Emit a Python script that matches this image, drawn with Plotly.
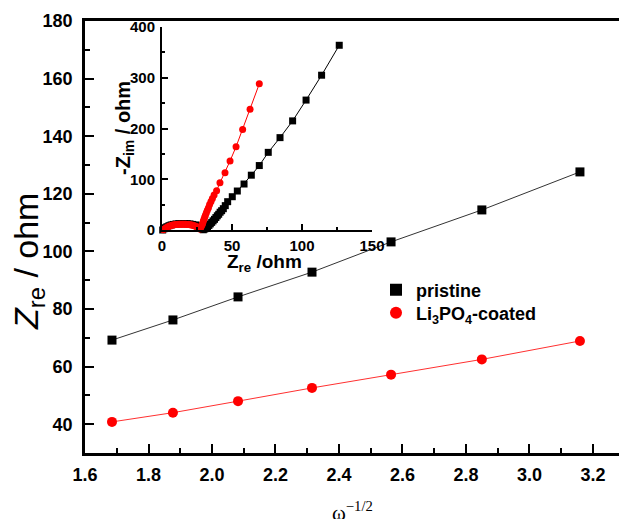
import plotly.graph_objects as go

# ---- main panel data ----
omega_inv_sqrt = [1.685, 1.877, 2.082, 2.315, 2.564, 2.85, 3.159]
zre_pristine = [69.2, 76.2, 84.2, 92.8, 103.3, 114.4, 127.6]
zre_coated = [40.8, 44.0, 48.0, 52.6, 57.2, 62.5, 68.9]

# ---- inset (Nyquist) data ----
ins_pristine_re = [0.5, 1.5, 2.5, 3.5, 5, 6.5, 8, 10, 12, 14, 16, 18, 20, 22, 24, 25.5, 27, 28, 29, 29.5,
                   30.5, 31.5, 32.5, 33.5, 34.5, 35.5, 36.5, 37.5, 38.5, 39.5, 40.5, 41.5, 42.6, 43.8,
                   45.2, 46.9, 50.2, 53.8, 58.6, 63.8, 69.5, 75.9, 84.3, 93.3, 102.9, 114.0, 126.6]
ins_pristine_im = [0, 2.5, 4.5, 6.5, 8.5, 10, 11, 12, 12.5, 12.5, 12.5, 12.5, 12, 11, 10, 8.5, 6.5, 4, 2, 0.5,
                   2, 4, 6.5, 9, 12, 15, 18, 21, 24.5, 28, 31, 35, 38, 42,
                   48, 55.8, 65.6, 76.8, 90.6, 108, 127, 153, 182, 215, 256, 305, 364]
ins_coated_re = [1, 2, 3, 4, 5, 6, 7, 8, 9, 10, 11, 12, 13, 14, 15, 16, 17, 18, 19, 20, 21, 22, 23, 24,
                 25, 26, 27, 27.5, 28, 28.5, 29, 29.5, 30, 30.5, 31, 31.7, 32.4, 33.2, 34, 35, 36,
                 37.2, 39, 41.4, 45, 48.6, 52.9, 57.6, 62.9, 69.5]
ins_coated_im = [0.5, 2.5, 4.5, 6, 7.5, 8.5, 9.5, 10, 10.5, 11, 11, 11.5, 11.5, 11.5, 11.5, 11.5, 11.5,
                 11, 11, 10.5, 10, 9.5, 8.5, 7.5, 6, 4, 2, 4, 7, 10, 13, 17, 21, 25, 29, 34, 39, 44,
                 50, 56, 62, 69, 77.5, 93, 113, 136, 164, 198, 238, 288]

FONT = "Liberation Sans, Arial, sans-serif"
W, H = 619, 519
L, R, T, B = 85, 0, 21, 66

pw = W - L - R
ph = H - T - B


def px_x(p):
    return (p - L) / pw


def px_y(p):
    return (H - B - p) / ph


fig = go.Figure()

fig.add_trace(go.Scatter(
    x=omega_inv_sqrt, y=zre_pristine, mode="lines+markers", showlegend=False,
    line=dict(color="#333333", width=1),
    marker=dict(symbol="square", size=9, color="black"),
    xaxis="x", yaxis="y"))
fig.add_trace(go.Scatter(
    x=omega_inv_sqrt, y=zre_coated, mode="lines+markers", showlegend=False,
    line=dict(color="#ff3030", width=1),
    marker=dict(symbol="circle", size=10, color="#ff0000"),
    xaxis="x", yaxis="y"))

# legend-only entries (markers only, as in the reference legend)
fig.add_trace(go.Scatter(
    x=[None], y=[None], mode="markers", name="pristine", legend="legend",
    marker=dict(symbol="square", size=9, color="black"), xaxis="x", yaxis="y"))
fig.add_trace(go.Scatter(
    x=[None], y=[None], mode="markers", name="Li<sub>3</sub>PO<sub>4</sub>-coated",
    legend="legend2",
    marker=dict(symbol="circle", size=10, color="#ff0000"), xaxis="x", yaxis="y"))

fig.add_trace(go.Scatter(
    x=ins_pristine_re, y=ins_pristine_im, mode="lines+markers", showlegend=False,
    line=dict(color="black", width=1),
    marker=dict(symbol="square", size=7, color="black"),
    cliponaxis=False, xaxis="x2", yaxis="y2"))
fig.add_trace(go.Scatter(
    x=ins_coated_re, y=ins_coated_im, mode="lines+markers", showlegend=False,
    line=dict(color="#ff0000", width=1),
    marker=dict(symbol="circle", size=7, color="#ff0000"),
    cliponaxis=False, xaxis="x2", yaxis="y2"))

tickfont_main = dict(family=FONT, size=18, color="black", weight="bold")
tickfont_ins = dict(family=FONT, size=15, color="black", weight="bold")
legfont = dict(family=FONT, size=18, color="black", weight="bold")

fig.update_layout(
    width=W, height=H, autosize=False,
    margin=dict(l=L, r=R, t=T, b=B, pad=0, autoexpand=False),
    paper_bgcolor="white", plot_bgcolor="rgba(0,0,0,0)",
    showlegend=True,
    legend=dict(x=px_x(376), y=px_y(290), xanchor="left", yanchor="middle",
                font=legfont, bgcolor="rgba(0,0,0,0)", itemsizing="constant"),
    legend2=dict(x=px_x(376), y=px_y(313), xanchor="left", yanchor="middle",
                 font=legfont, bgcolor="rgba(0,0,0,0)", itemsizing="constant"),
    xaxis=dict(range=[1.6, 3.282], domain=[0, 1], showgrid=False, zeroline=False,
               automargin=False,
               showline=True, linewidth=2.5, linecolor="black", mirror=True,
               ticks="inside", ticklen=9, tickwidth=2, tickcolor="black",
               dtick=0.2, tick0=1.6, tickformat=".1f", tickfont=tickfont_main,
               minor=dict(dtick=0.1, ticks="inside", ticklen=5, tickwidth=2, tickcolor="black"),
               ticklabelstandoff=4),
    yaxis=dict(range=[30, 180], domain=[0, 1], showgrid=False, zeroline=False,
               automargin=False,
               showline=True, linewidth=2.5, linecolor="black", mirror=False,
               ticks="inside", ticklen=9, tickwidth=2, tickcolor="black",
               tickvals=[40, 60, 80, 100, 120, 140, 160, 180], tickfont=tickfont_main,
               minor=dict(dtick=10, ticks="inside", ticklen=5, tickwidth=2, tickcolor="black"),
               ticklabelstandoff=6),
    xaxis2=dict(range=[0, 150], domain=[px_x(162), px_x(372)], anchor="y2",
                automargin=False,
                showgrid=False, zeroline=False, showline=True, linewidth=2,
                linecolor="black", ticks="inside", ticklen=6, tickwidth=1.5, tickcolor="black",
                dtick=50, tick0=0, tickfont=tickfont_ins,
                minor=dict(dtick=25, ticks="inside", ticklen=3, tickwidth=1.5, tickcolor="black"),
                ticklabelstandoff=1),
    yaxis2=dict(range=[0, 400], domain=[px_y(230), px_y(27)], anchor="x2",
                automargin=False,
                showgrid=False, zeroline=False, showline=True, linewidth=2,
                linecolor="black", ticks="inside", ticklen=6, tickwidth=1.5, tickcolor="black",
                dtick=100, tick0=0, tickfont=tickfont_ins,
                minor=dict(dtick=50, ticks="inside", ticklen=3, tickwidth=1.5, tickcolor="black"),
                ticklabelstandoff=2),
    annotations=[
        dict(text="<i>Z</i><sub>re</sub> / ohm", xref="paper", yref="paper",
             x=px_x(28), y=px_y(262), textangle=-90, showarrow=False,
             xanchor="center", yanchor="middle",
             font=dict(family=FONT, size=34, color="black")),
        dict(text="ω<sup>−1/2</sup>", xref="paper", yref="paper",
             x=px_x(352), y=px_y(496), showarrow=False, xanchor="center", yanchor="top",
             font=dict(family="Liberation Serif, Times New Roman, serif", size=21, color="black")),
        dict(text="-Z<sub>im</sub> / ohm", xref="paper", yref="paper",
             x=px_x(124), y=px_y(128), textangle=-90, showarrow=False,
             xanchor="center", yanchor="middle",
             font=dict(family=FONT, size=20, color="black", weight="bold")),
        dict(text="Z<sub>re</sub> /ohm", xref="paper", yref="paper",
             x=px_x(264), y=px_y(263), showarrow=False,
             xanchor="center", yanchor="middle",
             font=dict(family=FONT, size=19, color="black", weight="bold")),
    ],
)

fig.write_html("out.html")
